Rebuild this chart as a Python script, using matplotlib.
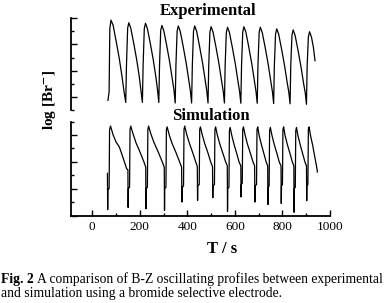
import matplotlib
matplotlib.use("Agg")
import matplotlib.pyplot as plt
from matplotlib.ticker import MultipleLocator

plt.rcParams['font.family'] = ['Liberation Serif', 'DejaVu Serif']
plt.rcParams['mathtext.fontset'] = 'stix'

# experimental trace (time in s, log[Br-] in arbitrary units)
exp_t = [66, 71, 74, 79, 88, 101, 114, 125, 134, 141,
         144, 149, 154, 162, 174, 187, 198, 205, 211,
         214, 219, 224, 232, 244, 257, 268, 275, 280,
         283, 288, 293, 301, 313, 326, 337, 344, 349,
         352, 357, 362, 370, 382, 395, 406, 413, 418,
         421, 426, 431, 439, 451, 464, 475, 482, 487,
         490, 495, 500, 508, 520, 533, 544, 551, 556,
         559, 564, 569, 577, 589, 602, 613, 620, 625,
         628, 633, 638, 646, 658, 671, 682, 689, 694,
         697, 702, 707, 715, 727, 740, 751, 758, 763,
         766, 771, 776, 784, 796, 809, 820, 827, 832,
         835, 840, 845, 853, 865, 878, 889, 896, 901,
         904, 909, 914, 922, 930, 937]
exp_y = [0.88, 1.20, 3.60, 3.92, 3.72, 3.10, 2.45, 1.80, 1.20, 0.80,
         2.20, 3.62, 3.82, 3.62, 3.07, 2.42, 1.77, 1.25, 0.80,
         2.20, 3.60, 3.80, 3.60, 3.05, 2.40, 1.75, 1.25, 0.80,
         2.20, 3.52, 3.72, 3.52, 2.97, 2.32, 1.67, 1.25, 0.78,
         2.20, 3.50, 3.70, 3.50, 2.95, 2.30, 1.65, 1.22, 0.78,
         2.20, 3.50, 3.70, 3.50, 2.95, 2.30, 1.65, 1.22, 0.78,
         2.20, 3.47, 3.67, 3.47, 2.92, 2.27, 1.62, 1.22, 0.78,
         2.20, 3.45, 3.65, 3.45, 2.90, 2.25, 1.60, 1.20, 0.77,
         2.20, 3.47, 3.67, 3.47, 2.92, 2.27, 1.62, 1.20, 0.77,
         2.20, 3.45, 3.65, 3.45, 2.90, 2.25, 1.60, 1.20, 0.76,
         2.20, 3.39, 3.59, 3.39, 2.84, 2.19, 1.55, 1.18, 0.75,
         2.20, 3.35, 3.55, 3.35, 2.80, 2.15, 1.52, 1.16, 0.73,
         2.20, 3.28, 3.48, 3.28, 2.90, 2.38]

# simulated trace
sim_t = [64, 65, 66, 71, 73, 77,
         88, 100, 114, 124, 138, 145, 150, 151, 152, 157, 159, 162,
         172, 184, 200, 216, 225, 226, 227, 232, 234, 237,
         247, 260, 277, 293, 303, 304, 305, 310, 312, 315,
         324, 336, 352, 367, 376, 377, 378, 384, 386, 389,
         397, 408, 421, 434, 442, 443, 444, 450, 452, 455,
         463, 473, 486, 498, 506, 507, 508, 514, 516, 519,
         526, 536, 548, 561, 568, 569, 570, 575, 577, 580,
         587, 596, 607, 618, 625, 626, 627, 631, 633, 636,
         643, 652, 664, 676, 683, 684, 685, 691, 693, 696,
         702, 711, 721, 732, 738, 739, 740, 744, 746, 749,
         756, 765, 776, 787, 794, 795, 796, 800, 802, 805,
         811, 820, 831, 842, 848, 849, 850, 854, 856, 859,
         865, 874, 884, 895, 901, 902, 903, 907, 909, 912,
         918, 927, 938, 945, 947]
sim_y = [1.57, 0.22, 0.97, 1.00, 3.20, 3.33,
         3.00, 2.74, 2.55, 2.30, 1.93, 1.74, 1.70, 0.30, 1.00, 1.05, 3.20, 3.33,
         3.03, 2.71, 2.38, 2.03, 1.80, 0.25, 1.00, 1.05, 3.20, 3.33,
         3.03, 2.71, 2.38, 2.03, 1.80, 0.19, 1.00, 1.05, 3.20, 3.30,
         3.00, 2.68, 2.35, 2.00, 1.80, 0.50, 1.05, 1.10, 3.20, 3.33,
         3.03, 2.71, 2.38, 2.03, 1.82, 0.56, 1.10, 1.15, 3.20, 3.30,
         3.00, 2.68, 2.35, 2.00, 1.82, 0.66, 1.10, 1.15, 3.20, 3.30,
         3.00, 2.68, 2.35, 2.00, 1.85, 0.15, 1.00, 1.05, 3.15, 3.28,
         2.98, 2.66, 2.33, 1.98, 1.85, 0.69, 1.15, 1.20, 3.20, 3.30,
         3.00, 2.68, 2.35, 2.00, 1.85, 0.50, 1.10, 1.15, 3.20, 3.30,
         2.98, 2.66, 2.33, 1.98, 1.85, 0.41, 1.05, 1.10, 3.15, 3.28,
         2.98, 2.66, 2.33, 1.98, 1.85, 0.45, 1.10, 1.15, 3.20, 3.30,
         2.98, 2.66, 2.33, 1.98, 1.85, 0.12, 1.00, 1.05, 3.15, 3.28,
         2.98, 2.66, 2.33, 1.98, 1.85, 0.55, 1.10, 1.15, 3.20, 3.30,
         2.98, 2.62, 2.10, 1.75, 1.62]

x_ticks = [0, 200, 400, 600, 800, 1000]
x_ticklabels = ['0', '200', '400', '600', '800', '1000']

fig = plt.figure(figsize=(3.84, 3.03), dpi=100)
W, H = 384, 303

def px_axes(left, top, right, bottom):
    return fig.add_axes([left / W, 1 - bottom / H, (right - left) / W, (bottom - top) / H])

ax_top = px_axes(71.3, 18, 330, 110.4)
ax_bot = px_axes(71.3, 121.5, 330, 215.5)

for ax in (ax_top, ax_bot):
    ax.set_xlim(-88, 1000)
    ax.spines['top'].set_visible(False)
    ax.spines['right'].set_visible(False)
    ax.spines['left'].set_linewidth(1.3)
    ax.spines['bottom'].set_linewidth(1.3)
    ax.yaxis.set_major_locator(MultipleLocator(1))
    ax.yaxis.set_minor_locator(MultipleLocator(0.5))
    ax.tick_params(axis='y', which='both', direction='in', labelleft=False, width=1.0)
    ax.tick_params(axis='y', which='major', length=4)
    ax.tick_params(axis='y', which='minor', length=2)
    ax.patch.set_visible(False)

ax_top.plot(exp_t, exp_y, color='black', lw=0.9)
ax_top.set_ylim(0.5, 4.0)
ax_top.spines['bottom'].set_visible(False)
ax_top.set_xticks([])

ax_bot.plot(sim_t, sim_y, color='black', lw=0.9)
ax_bot.set_ylim(0, 3.5)
ax_bot.set_xticks(x_ticks)
ax_bot.set_xticklabels(x_ticklabels, fontsize=9.5)
ax_bot.xaxis.set_minor_locator(MultipleLocator(100))
ax_bot.tick_params(axis='x', which='both', direction='in', width=1.0, pad=4)
ax_bot.tick_params(axis='x', which='major', length=4)
ax_bot.tick_params(axis='x', which='minor', length=2)

fig.text(208 / W, 1 - 11 / H, 'Experimental', ha='center', va='center',
         fontsize=12, fontweight='bold')
fig.text(210.5 / W, 1 - 115.7 / H, 'Simulation', ha='center', va='center',
         fontsize=12, fontweight='bold')
fig.text(221.7 / W, 1 - 249 / H, 'T / s', ha='center', va='center',
         fontsize=12, fontweight='bold')
fig.text(50 / W, 1 - 100 / H, r'log [Br$^{\mathbf{-}}$]', ha='center', va='center',
         rotation=90, fontsize=11, fontweight='bold')

# caption, "Fig. 2" in bold followed by the plain text
renderer = fig.canvas.get_renderer()
lab = fig.text(1 / W, 1 - 279 / H, 'Fig. 2', ha='left', va='center',
               fontsize=9.8, fontweight='bold')
bb = lab.get_window_extent(renderer)
fig.text((bb.x1 + 3) / W, 1 - 279 / H,
         'A comparison of B-Z oscillating profiles between experimental',
         ha='left', va='center', fontsize=9.8)
fig.text(1 / W, 1 - 293 / H,
         'and simulation using a bromide selective electrode.',
         ha='left', va='center', fontsize=9.8)

fig.savefig('out.png', dpi=100)
